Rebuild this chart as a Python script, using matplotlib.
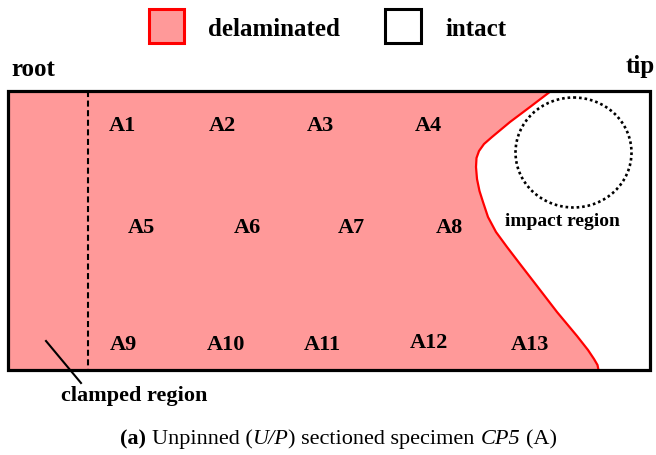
import matplotlib
matplotlib.use("Agg")
import matplotlib.pyplot as plt
from matplotlib.patches import Rectangle, Ellipse, Polygon

plt.rcParams['font.family'] = ['Liberation Serif', 'DejaVu Serif']

# ---- data (pixel coordinates of the diagram, y downwards) ----
legend_labels = ["delaminated", "intact"]
zone_labels = ["A1", "A2", "A3", "A4", "A5", "A6", "A7", "A8",
               "A9", "A10", "A11", "A12", "A13"]
zone_x = [122.5, 222, 320.5, 428.5, 141, 247.5, 351, 449,
          123, 226, 322.5, 429, 530]
zone_baseline = [130.7, 130.7, 130.7, 130.7, 233.3, 233.3, 233.3, 233.3,
                 350, 350, 350, 347.7, 350]
# delamination front (red boundary), from top edge to bottom edge
front_x = [551, 530, 510, 492, 484, 479, 476.5, 476, 477, 479.5, 483,
           488, 496, 507, 520, 537, 557, 577, 588, 594, 597.5, 598.5]
front_y = [92, 108, 123, 138, 145, 152, 159, 168, 180, 192, 203,
           218, 233, 248, 265, 287, 313, 337, 351, 360, 366, 371]
# caption pieces: (text, weight, style)
caption = [("(a)", 'bold', 'normal'), ("Unpinned (", 'normal', 'normal'),
           ("U/P", 'normal', 'italic'), (") sectioned specimen", 'normal', 'normal'),
           ("CP5", 'normal', 'italic'), ("(A)", 'normal', 'normal')]
caption_space_before = [False, True, False, False, True, True]

DELAM = '#ff9999'

fig = plt.figure(figsize=(6.56, 4.56), dpi=100)
ax = fig.add_axes([0, 0, 1, 1])
ax.set_xlim(0, 656)
ax.set_ylim(456, 0)
ax.axis('off')

left, top, right, bottom = 8, 92, 650, 371

# delaminated fill
poly = [(left, top)] + list(zip(front_x, front_y)) + [(left, bottom)]
ax.add_patch(Polygon(poly, closed=True, facecolor=DELAM, edgecolor='none', zorder=1))
ax.plot(front_x, front_y, color='red', lw=1.6, zorder=2, solid_capstyle='butt')

# clamp line
ax.plot([88, 88], [top, bottom], color='black', lw=1.5, dashes=(2.9, 1.7), zorder=2)

# impact region
ax.add_patch(Ellipse((573.5, 153.5), 116, 110, fill=False, edgecolor='black',
                     lw=1.9, linestyle=(0, (1, 1.1)), zorder=2))
ax.text(562, 226.5, "impact region", fontsize=14, fontweight='bold',
        ha='center', va='baseline', zorder=4)

# outer specimen border
ax.add_patch(Rectangle((left, top), right - left, bottom - top, fill=False,
                       edgecolor='black', lw=2.3, joinstyle='miter', zorder=3))

# zone labels
for lab, x, y in zip(zone_labels, zone_x, zone_baseline):
    ax.text(x, y, lab, fontsize=16, fontweight='bold', ha='center',
            va='baseline', zorder=4)

# legend
ax.add_patch(Rectangle((148.5, 10), 35, 34, facecolor=DELAM, edgecolor='red',
                       lw=2.2, joinstyle='miter', zorder=3))
ax.text(208, 35.5, legend_labels[0], fontsize=18, fontweight='bold',
        ha='left', va='baseline')
ax.add_patch(Rectangle((385, 10), 36, 34, facecolor='white', edgecolor='black',
                       lw=2.2, joinstyle='miter', zorder=3))
ax.text(446, 35.5, legend_labels[1], fontsize=18, fontweight='bold',
        ha='left', va='baseline')

# root / tip
ax.text(11, 76, "root", fontsize=18, fontweight='bold', ha='left', va='baseline')
ax.text(655, 73, "tip", fontsize=18, fontweight='bold', ha='right', va='baseline')

# clamped region
ax.plot([46, 81], [342, 384], color='black', lw=1.5, zorder=4)
ax.text(134, 401.5, "clamped region", fontsize=16, fontweight='bold',
        ha='center', va='baseline')

# caption, drawn piece by piece
renderer = fig.canvas.get_renderer()
cap_fs = 16
def width_of(s, weight, style):
    t = ax.text(0, 0, s, fontsize=cap_fs, fontweight=weight, fontstyle=style)
    w = t.get_window_extent(renderer).width
    t.remove()
    return w
space_w = width_of("a a", 'normal', 'normal') - width_of("aa", 'normal', 'normal')
widths = [width_of(s, w, st) for s, w, st in caption]
total = sum(widths) + space_w * sum(caption_space_before)
x = 338.5 - total / 2
for (s, w, st), wd, sp in zip(caption, widths, caption_space_before):
    if sp:
        x += space_w
    ax.text(x, 444, s, fontsize=cap_fs, fontweight=w, fontstyle=st,
            ha='left', va='baseline')
    x += wd

fig.savefig("out.png", dpi=100)
